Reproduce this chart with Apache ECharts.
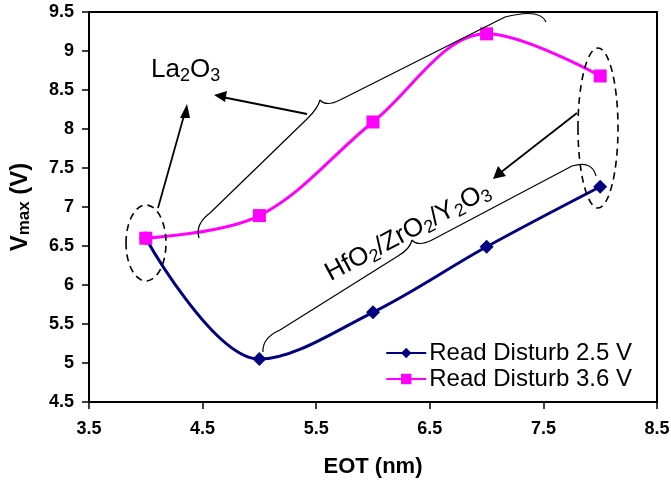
<!DOCTYPE html>
<html><head><meta charset="utf-8">
<script src="https://cdn.jsdelivr.net/npm/echarts@6/dist/echarts.min.js"></script>
<style>html,body{margin:0;padding:0;background:#fff}#c{width:671px;height:480px}</style>
</head><body><div id="c"></div>
<script>
const eot = [4, 5, 6, 7, 8];
const rd25 = [6.6, 5.05, 5.65, 6.49, 7.26];
const rd36 = [6.6, 6.89, 8.09, 9.22, 8.68];
const seriesNames = ['Read Disturb 2.5 V', 'Read Disturb 3.6 V'];

const chart = echarts.init(document.getElementById('c'), null, {renderer: 'canvas'});
const F = 'Liberation Sans, Arial, sans-serif';
const thin = {fill: 'none', stroke: '#000', lineWidth: 1.2};
function quad(x1, y1, cx, cy, x2, y2) {
  return {type: 'bezierCurve', shape: {x1: x1, y1: y1, cpx1: cx, cpy1: cy, x2: x2, y2: y2}, style: thin, z: 10};
}
function seg(x1, y1, x2, y2, w) {
  return {type: 'line', shape: {x1: x1, y1: y1, x2: x2, y2: y2}, style: {stroke: '#000', lineWidth: w || 1.2}, z: 10};
}
chart.setOption({
  animation: false,
  backgroundColor: '#fff',
  grid: {left: 89, right: 14, top: 12, bottom: 78, show: true, borderColor: '#000', borderWidth: 2,
         containLabel: false, outerBoundsMode: 'none'},
  xAxis: {
    type: 'value', min: 3.5, max: 8.5, interval: 1,
    name: 'EOT (nm)', nameLocation: 'middle', nameGap: 54,
    nameTextStyle: {fontFamily: F, fontWeight: 'bold', fontSize: 22, color: '#000'},
    axisLine: {lineStyle: {color: '#000', width: 2}},
    axisTick: {show: true, length: 7, lineStyle: {color: '#000', width: 1.5}},
    axisLabel: {fontFamily: F, fontWeight: 'bold', fontSize: 18, color: '#000', margin: 18},
    splitLine: {show: false}
  },
  yAxis: {
    type: 'value', min: 4.5, max: 9.5, interval: 0.5,
    name: '{b|V}{s|max}{b| (V)}', nameLocation: 'middle', nameGap: 56, nameRotate: 90,
    nameTextStyle: {rich: {
      b: {fontFamily: F, fontWeight: 'bold', fontSize: 24, color: '#000'},
      s: {fontFamily: F, fontWeight: 'bold', fontSize: 17, color: '#000', padding: [9, 0, 0, 0]}
    }},
    axisLine: {show: true, lineStyle: {color: '#000', width: 2}},
    axisTick: {show: true, length: 7, lineStyle: {color: '#000', width: 1.5}},
    axisLabel: {fontFamily: F, fontWeight: 'bold', fontSize: 18, color: '#000', margin: 15},
    splitLine: {show: false}
  },
  legend: {
    right: 34, bottom: 84, orient: 'vertical', itemGap: 2, itemWidth: 40, itemHeight: 13,
    textStyle: {fontFamily: F, fontSize: 24, color: '#000', padding: [0, 0, 0, -2]},
    data: seriesNames
  },
  series: [
    {name: seriesNames[0], type: 'line', data: eot.map((x, i) => [x, rd25[i]]), smooth: 0.35,
     symbol: 'diamond', symbolSize: 14, color: '#000080', lineStyle: {width: 3, color: '#000080'}, z: 3},
    {name: seriesNames[1], type: 'line', data: eot.map((x, i) => [x, rd36[i]]), smooth: 0.35,
     symbol: 'rect', symbolSize: 13, color: '#ff00ff', lineStyle: {width: 3, color: '#ff00ff'}, z: 4}
  ],
  graphic: [
    {type: 'ellipse', shape: {cx: 146, cy: 243, rx: 20, ry: 38}, style: {fill: 'none', stroke: '#000', lineWidth: 1.6, lineDash: [7, 5]}, z: 10},
    {type: 'ellipse', shape: {cx: 598, cy: 128, rx: 20, ry: 80}, style: {fill: 'none', stroke: '#000', lineWidth: 1.6, lineDash: [7, 5]}, z: 10},
    quad(199, 238, 195, 224, 210, 213), seg(210, 213, 308, 118), quad(308, 118, 318, 108, 320, 100),
    quad(320, 100, 326, 107, 340, 100), seg(340, 100, 505, 17), quad(505, 17, 540, 8, 546, 22),
    quad(263, 352, 262, 338, 280, 330), seg(280, 330, 398, 256), quad(398, 256, 410, 249, 412, 240),
    quad(412, 240, 418, 247, 432, 240), seg(432, 240, 572, 166), quad(572, 166, 592, 160, 596, 176),
    seg(158, 208, 185, 112, 1.8),
    {type: 'polygon', shape: {points: [[187, 104], [180, 118], [190, 118]]}, style: {fill: '#000'}, z: 10},
    seg(307, 114, 222, 97, 1.8),
    {type: 'polygon', shape: {points: [[214, 95], [227, 91], [225, 102]]}, style: {fill: '#000'}, z: 10},
    seg(577, 113, 500, 173, 1.8),
    {type: 'polygon', shape: {points: [[493, 179], [498, 166], [506, 176]]}, style: {fill: '#000'}, z: 10},
    {type: 'text', x: 151, y: 55, style: {
      text: '{n|La}{s|2}{n|O}{s|3}', fontFamily: F,
      rich: {n: {fontFamily: F, fontSize: 26, color: '#000'}, s: {fontFamily: F, fontSize: 18, color: '#000', padding: [12, 0, 0, 0]}}
    }, z: 10},
    {type: 'text', x: 408, y: 232, rotation: 28 * Math.PI / 180, style: {
      text: '{n|HfO}{s|2}{n|/ZrO}{s|2}{n|/Y}{s|2}{n|O}{s|3}', fontFamily: F, align: 'center', verticalAlign: 'middle',
      rich: {n: {fontFamily: F, fontSize: 26, color: '#000'}, s: {fontFamily: F, fontSize: 18, color: '#000', padding: [12, 0, 0, 0]}}
    }, z: 10}
  ]
});
</script></body></html>
